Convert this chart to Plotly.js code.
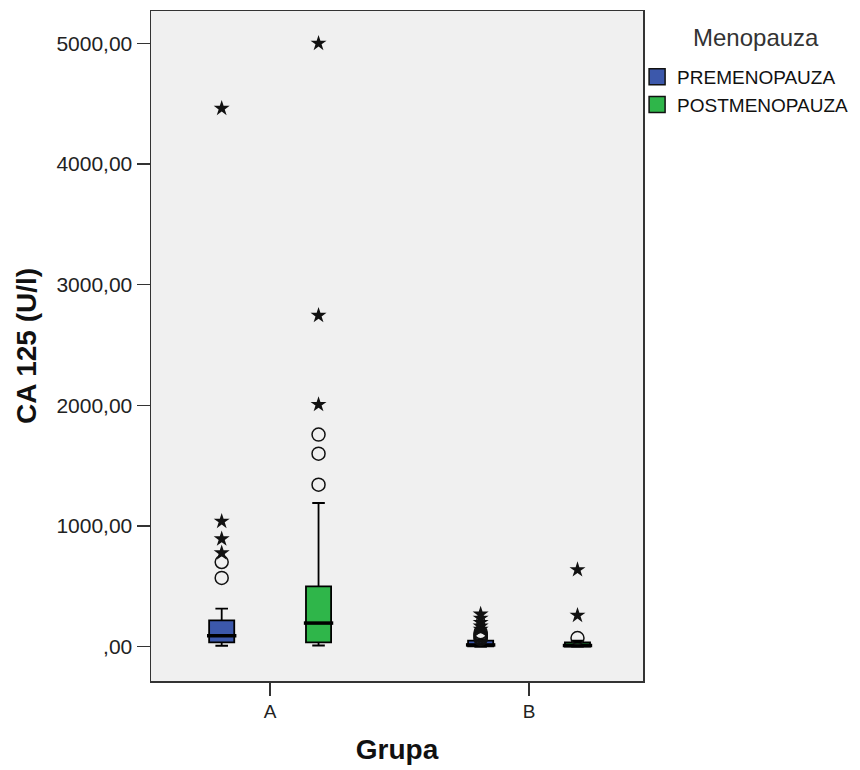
<!DOCTYPE html>
<html>
<head>
<meta charset="utf-8">
<script src="https://cdn.plot.ly/plotly-3.0.1.min.js"></script>
<style>html,body{margin:0;padding:0;background:#fff;}#chart{width:860px;height:770px;}</style>
</head>
<body>
<div id="chart"></div>
<script>
// ---- data ----
const groups = ['A', 'B'];
const seriesNames = ['PREMENOPAUZA', 'POSTMENOPAUZA'];
const legendTitle = 'Menopauza';

const preQ1 = [36, 3];
const preMedian = [91, 15];
const preQ3 = [218, 50];
const preLower = [8, 0];
const preUpper = [315, 60];

const postQ1 = [36, 2];
const postMedian = [196, 10];
const postQ3 = [500, 35];
const postLower = [10, 0];
const postUpper = [1191, 50];

const preCirclesA = [570, 702];
const preStarsA = [777, 893, 1039, 4461];
const postCirclesA = [1343, 1600, 1758];
const postStarsA = [2007, 2745, 5000];
const preCirclesB = [65, 75, 85, 95, 105, 120];
const preStarsB = [145, 170, 200, 235, 270];
const postCirclesB = [72];
const postStarsB = [260, 638];

const yTickVals = [0, 1000, 2000, 3000, 4000, 5000];
const yTickText = [',00', '1000,00', '2000,00', '3000,00', '4000,00', '5000,00'];

// ---- styling / layout ----
const colors = ['#3c58ab', '#2fb64a'];
const offset = 0.187;
const boxW = 0.097;
const font = 'Liberation Sans, Arial, sans-serif';

const xPos = (s) => groups.map((g, i) => i + (s === 0 ? -offset : offset));

const traces = [];
const stats = [
  {q1: preQ1, med: preMedian, q3: preQ3, lo: preLower, hi: preUpper},
  {q1: postQ1, med: postMedian, q3: postQ3, lo: postLower, hi: postUpper}
];
stats.forEach((st, s) => {
  traces.push({
    type: 'box', name: seriesNames[s], x: xPos(s), showlegend: false,
    q1: st.q1, median: st.med, q3: st.q3, lowerfence: st.lo, upperfence: st.hi,
    boxpoints: false, width: boxW, whiskerwidth: 0.5,
    fillcolor: colors[s], line: {color: '#000', width: 1.8},
    hoverinfo: 'skip'
  });
  // thicker median line
  traces.push({
    type: 'scatter', mode: 'markers', x: xPos(s), y: st.med, showlegend: false,
    marker: {symbol: 'line-ew', size: 21, line: {color: '#000', width: 3.5}},
    hoverinfo: 'skip'
  });
});
// legend swatches
seriesNames.forEach((n, s) => {
  traces.push({
    type: 'scatter', mode: 'markers', name: n, x: [null], y: [null], showlegend: true,
    marker: {symbol: 'square', size: 18, color: colors[s], line: {color: '#111', width: 1.5}}
  });
});

const outl = [
  [preCirclesA, 0, 0, 'circle-open'], [preStarsA, 0, 0, 'star'],
  [postCirclesA, 1, 0, 'circle-open'], [postStarsA, 1, 0, 'star'],
  [preCirclesB, 0, 1, 'circle-open'], [preStarsB, 0, 1, 'star'],
  [postCirclesB, 1, 1, 'circle-open'], [postStarsB, 1, 1, 'star']
];
outl.forEach(([vals, s, g, sym]) => {
  const xv = g + (s === 0 ? -offset : offset);
  traces.push({
    type: 'scatter', mode: 'markers', showlegend: false, hoverinfo: 'skip',
    x: vals.map(() => xv), y: vals,
    marker: sym === 'star'
      ? {symbol: 'star', size: 12, color: '#111', line: {width: 0}}
      : {symbol: 'circle-open', size: 13, color: '#111', line: {width: 1.5, color: '#111'}}
  });
});

const layout = {
  width: 860, height: 770,
  margin: {l: 151, r: 217, t: 11, b: 89, autoexpand: false},
  paper_bgcolor: '#ffffff', plot_bgcolor: '#f0f0f0',
  boxmode: 'overlay',
  font: {family: font, color: '#222', size: 18},
  showlegend: true,
  legend: {
    x: 0.988, y: 0.93, xanchor: 'left', yanchor: 'top',
    font: {family: font, size: 19, color: '#111'},
    tracegroupgap: 0, itemwidth: 30, bgcolor: 'rgba(0,0,0,0)', itemsizing: 'trace'
  },
  annotations: [{
    text: legendTitle, xref: 'paper', yref: 'paper', x: 1.2297, y: 0.96,
    xanchor: 'center', yanchor: 'middle', showarrow: false,
    font: {family: font, size: 24, color: '#333'}
  }],
  xaxis: {
    range: [-0.46, 1.44], tickvals: groups.map((g, i) => i), ticktext: groups,
    ticks: 'outside', ticklen: 13, tickwidth: 1.5, tickcolor: '#333',
    showline: true, linecolor: '#333', linewidth: 1.5, mirror: true,
    showgrid: false, zeroline: false,
    tickfont: {family: font, size: 19, color: '#222'},
    title: {text: 'Grupa', font: {family: font, size: 28, color: '#111', weight: 'bold'}, standoff: 18}
  },
  yaxis: {
    range: [-284, 5268], tickvals: yTickVals, ticktext: yTickText,
    ticks: 'outside', ticklen: 13, tickwidth: 1.5, tickcolor: '#333',
    showline: true, linecolor: '#333', linewidth: 1.5, mirror: true,
    showgrid: false, zeroline: false,
    tickfont: {family: font, size: 21, color: '#222'},
    title: {text: 'CA 125 (U/l)', font: {family: font, size: 28, color: '#111', weight: 'bold'}, standoff: 11}
  }
};

Plotly.newPlot('chart', traces, layout, {displayModeBar: false, staticPlot: true});
</script>
</body>
</html>
